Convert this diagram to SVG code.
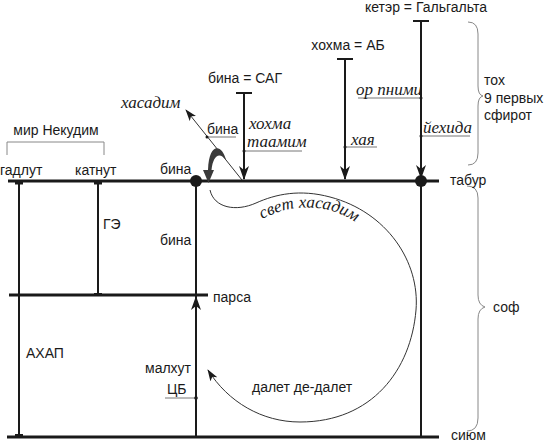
<svg xmlns="http://www.w3.org/2000/svg" xmlns:xlink="http://www.w3.org/1999/xlink" width="544" height="441" viewBox="0 0 544 441">
<style>
.t{font-family:"Liberation Sans",Arial,sans-serif;font-size:14px;fill:#1a1a1a}
.i{font-family:"Liberation Serif","Times New Roman",serif;font-style:italic;font-size:17px;fill:#1a1a1a}
.thick{stroke:#1a1a1a;stroke-width:3.2;fill:none}
.mid{stroke:#1a1a1a;stroke-width:2;fill:none}
.thin{stroke:#333;stroke-width:1;fill:none}
.ul{stroke:#777;stroke-width:1;fill:none}
.br{stroke:#888;stroke-width:1;fill:none}
</style>
<defs>
<marker id="big" viewBox="0 0 14 10" refX="13" refY="5" markerWidth="14" markerHeight="10" orient="auto" markerUnits="userSpaceOnUse">
<path d="M0,0 L14,5 L0,10 L4,5 Z" fill="#1a1a1a"/>
</marker>
<marker id="small" viewBox="0 0 12 8" refX="11" refY="4" markerWidth="12" markerHeight="8" orient="auto" markerUnits="userSpaceOnUse">
<path d="M0,0 L12,4 L0,8 L3,4 Z" fill="#1a1a1a"/>
</marker>
<path id="arcText" d="M262 219 C 292 203, 338 199, 374 238"/>
</defs>

<g id="connectors">
<line class="thick" x1="8" y1="181" x2="439" y2="181"/>
<line class="thick" x1="9" y1="295" x2="208" y2="295"/>
<line class="thick" x1="7" y1="437" x2="439" y2="437"/>
<line class="mid" x1="19" y1="181" x2="19" y2="437"/>
<line class="mid" x1="98" y1="181" x2="98" y2="295"/>
<line class="mid" x1="196" y1="181" x2="196" y2="437"/>
<line class="mid" x1="421" y1="181" x2="421" y2="437"/>
<rect x="15" y="182" width="8" height="2.5" fill="#1a1a1a"/>
<rect x="94" y="182" width="8" height="2.5" fill="#1a1a1a"/>
<rect x="94" y="293" width="8" height="2.5" fill="#1a1a1a"/>
<rect x="15" y="434" width="8" height="2.5" fill="#1a1a1a"/>
<line class="mid" x1="196" y1="330" x2="196" y2="297" marker-end="url(#big)"/>
<line class="mid" x1="413" y1="21" x2="429" y2="21"/>
<line class="mid" x1="421" y1="21" x2="421" y2="178" marker-end="url(#big)"/>
<line class="mid" x1="337" y1="59" x2="353" y2="59"/>
<line class="mid" x1="345" y1="59" x2="345" y2="179" marker-end="url(#big)"/>
<line class="mid" x1="236" y1="93" x2="252" y2="93"/>
<line class="mid" x1="244" y1="93" x2="244" y2="179" marker-end="url(#big)"/>
<line class="thin" x1="242" y1="180" x2="186" y2="110" marker-end="url(#small)"/>
<path d="M226 160 C 222 144, 209 142, 208 170 L 203 170 L 208.5 183 L 214 170 L 211.5 170 C 213 156, 219 151, 226 160 Z" fill="#3a3a3a"/>
<path class="thin" d="M210 190 C 214 208, 236 212, 256 203 C 276 194, 300 189, 330 197 C 387 212, 420 262, 416 310 C 411 370, 372 422, 300 422 C 262 422, 228 402, 208 370" marker-end="url(#small)"/>
<circle cx="196" cy="181" r="6" fill="#1a1a1a"/>
<circle cx="421" cy="181" r="6" fill="#1a1a1a"/>
</g>

<g id="labels-underlines">
<line class="ul" x1="207" y1="137" x2="236" y2="137"/><circle cx="207" cy="137" r="1.5" fill="#1a1a1a"/>
<line class="ul" x1="244" y1="151" x2="302" y2="151"/><circle cx="244" cy="151" r="1.5" fill="#1a1a1a"/>
<line class="ul" x1="345" y1="147" x2="377" y2="147"/><circle cx="345" cy="147" r="1.5" fill="#1a1a1a"/>
<line class="ul" x1="358" y1="98" x2="421" y2="98"/><circle cx="421" cy="98" r="1.5" fill="#1a1a1a"/>
<line class="ul" x1="421" y1="136" x2="470" y2="136"/><circle cx="421" cy="136" r="1.5" fill="#1a1a1a"/>
<line class="ul" x1="165" y1="398" x2="196" y2="398"/><circle cx="196" cy="398" r="1.8" fill="#1a1a1a"/>
</g>

<g id="nekudim">
<path class="br" d="M7 155 V142 H104 V155"/>
<text class="t" x="56" y="135" text-anchor="middle">мир Некудим</text>
</g>

<g id="braces">
<path class="br" d="M468 22 Q478 22 478 34 V86 Q478 95 483 96 Q478 97 478 106 V153 Q478 165 468 165"/>
<path class="br" d="M467 186 Q478 186 478 198 V295 Q478 305 485 307 Q478 309 478 319 V418 Q478 431 467 431"/>
</g>

<g id="text">
<text class="t" x="426" y="12" text-anchor="middle">кетэр = Гальгальта</text>
<text class="t" x="348" y="50" text-anchor="middle">хохма = АБ</text>
<text class="t" x="245" y="83" text-anchor="middle">бина = САГ</text>
<text class="t" x="484" y="85">тох</text>
<text class="t" x="484" y="103">9 первых</text>
<text class="t" x="484" y="120">сфирот</text>
<text class="t" x="207" y="134">бина</text>
<text class="t" x="0" y="175">гадлут</text>
<text class="t" x="75" y="175">катнут</text>
<text class="t" x="160" y="174">бина</text>
<text class="t" x="450" y="185">табур</text>
<text class="t" x="103" y="229">ГЭ</text>
<text class="t" x="160" y="245">бина</text>
<text class="t" x="213" y="302">парса</text>
<text class="t" x="493" y="312">соф</text>
<text class="t" x="26" y="358">АХАП</text>
<text class="t" x="145" y="373">малхут</text>
<text class="t" x="167" y="394">ЦБ</text>
<text class="t" x="252" y="392">далет де-далет</text>
<text class="t" x="451" y="440">сиюм</text>
<text class="i" x="121" y="108">хасадим</text>
<text class="i" x="249" y="129">хохма</text>
<text class="i" x="247" y="147">таамим</text>
<text class="i" x="351" y="145">хая</text>
<text class="i" x="356" y="95">ор пними</text>
<text class="i" x="423" y="133">йехида</text>
<text class="i"><textPath xlink:href="#arcText">свет хасадим</textPath></text>
</g>
</svg>
